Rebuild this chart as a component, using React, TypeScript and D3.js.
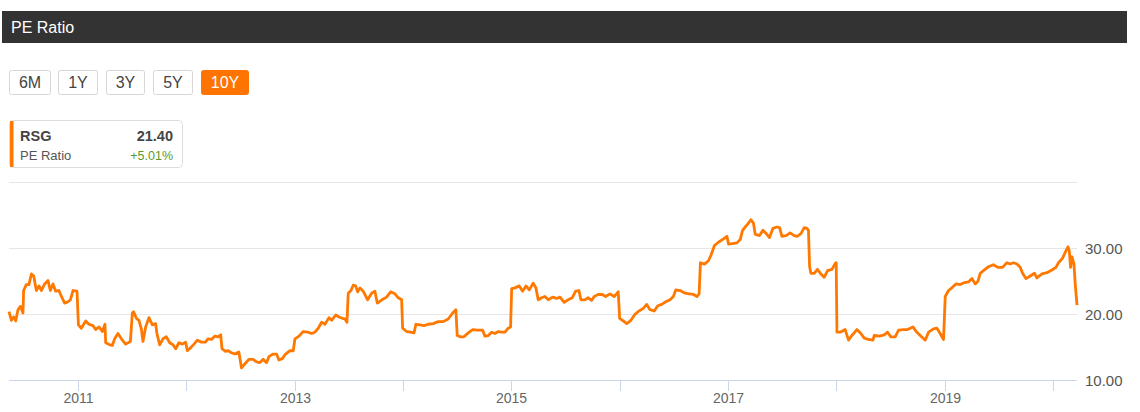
import * as d3 from "d3";

const years = [
  2010.365, 2010.387, 2010.408, 2010.427, 2010.448, 2010.47, 2010.494, 2010.5, 2010.525, 2010.549,
  2010.572, 2010.593, 2010.618, 2010.642, 2010.664, 2010.694, 2010.725, 2010.747, 2010.771, 2010.796,
  2010.826, 2010.849, 2010.879, 2010.91, 2010.932, 2010.956, 2010.993, 2011.006, 2011.033, 2011.073,
  2011.103, 2011.14, 2011.165, 2011.196, 2011.227, 2011.251, 2011.258, 2011.295, 2011.319, 2011.341,
  2011.371, 2011.403, 2011.442, 2011.486, 2011.504, 2011.516, 2011.541, 2011.565, 2011.587, 2011.602,
  2011.627, 2011.657, 2011.689, 2011.719, 2011.731, 2011.756, 2011.787, 2011.818, 2011.849, 2011.879,
  2011.904, 2011.934, 2011.966, 2011.996, 2012.012, 2012.033, 2012.073, 2012.104, 2012.141, 2012.178,
  2012.202, 2012.234, 2012.264, 2012.295, 2012.319, 2012.331, 2012.363, 2012.387, 2012.418, 2012.449,
  2012.486, 2012.511, 2012.541, 2012.578, 2012.618, 2012.649, 2012.68, 2012.71, 2012.741, 2012.763,
  2012.802, 2012.834, 2012.855, 2012.886, 2012.917, 2012.957, 2012.987, 2013.003, 2013.04, 2013.079,
  2013.12, 2013.157, 2013.187, 2013.218, 2013.249, 2013.28, 2013.317, 2013.342, 2013.379, 2013.409,
  2013.44, 2013.465, 2013.483, 2013.495, 2013.52, 2013.541, 2013.563, 2013.582, 2013.603, 2013.633,
  2013.674, 2013.711, 2013.741, 2013.763, 2013.806, 2013.849, 2013.886, 2013.926, 2013.957, 2013.988,
  2013.997, 2014.034, 2014.071, 2014.102, 2014.12, 2014.157, 2014.194, 2014.234, 2014.28, 2014.326,
  2014.372, 2014.418, 2014.459, 2014.489, 2014.501, 2014.533, 2014.563, 2014.603, 2014.644, 2014.686,
  2014.736, 2014.757, 2014.788, 2014.819, 2014.849, 2014.88, 2014.911, 2014.942, 2014.972, 2014.994,
  2015.004, 2015.034, 2015.074, 2015.105, 2015.136, 2015.166, 2015.203, 2015.228, 2015.249, 2015.281,
  2015.311, 2015.342, 2015.382, 2015.419, 2015.45, 2015.489, 2015.526, 2015.563, 2015.595, 2015.625,
  2015.643, 2015.68, 2015.711, 2015.742, 2015.766, 2015.803, 2015.84, 2015.872, 2015.911, 2015.951,
  2015.988, 2016.001, 2016.034, 2016.066, 2016.105, 2016.142, 2016.179, 2016.219, 2016.25, 2016.281,
  2016.32, 2016.352, 2016.389, 2016.426, 2016.465, 2016.496, 2016.518, 2016.558, 2016.604, 2016.641,
  2016.681, 2016.712, 2016.733, 2016.745, 2016.782, 2016.819, 2016.844, 2016.874, 2016.911, 2016.958,
  2016.989, 2017.004, 2017.041, 2017.081, 2017.112, 2017.133, 2017.158, 2017.179, 2017.21, 2017.234,
  2017.25, 2017.29, 2017.321, 2017.352, 2017.382, 2017.414, 2017.451, 2017.475, 2017.497, 2017.536,
  2017.573, 2017.61, 2017.641, 2017.672, 2017.703, 2017.728, 2017.742, 2017.752, 2017.764, 2017.795,
  2017.825, 2017.857, 2017.887, 2017.918, 2017.959, 2017.989, 2017.998, 2018.005, 2018.035, 2018.081,
  2018.112, 2018.143, 2018.189, 2018.226, 2018.257, 2018.297, 2018.337, 2018.349, 2018.398, 2018.442,
  2018.472, 2018.503, 2018.543, 2018.574, 2018.62, 2018.657, 2018.707, 2018.737, 2018.774, 2018.82,
  2018.851, 2018.897, 2018.928, 2018.958, 2018.989, 2019.005, 2019.035, 2019.066, 2019.104, 2019.143,
  2019.183, 2019.22, 2019.251, 2019.282, 2019.307, 2019.328, 2019.358, 2019.404, 2019.45, 2019.491,
  2019.534, 2019.574, 2019.605, 2019.636, 2019.667, 2019.697, 2019.719, 2019.75, 2019.79, 2019.829,
  2019.851, 2019.898, 2019.944, 2019.99, 2020.027, 2020.051, 2020.088, 2020.119, 2020.138, 2020.15,
  2020.162, 2020.175, 2020.193, 2020.205, 2020.221,
];

const peRatio = [
  20.4, 19.1, 19.6, 19.0, 20.7, 21.2, 20.2, 23.6, 24.5, 24.5,
  26.1, 25.8, 23.6, 24.3, 23.6, 24.6, 25.1, 23.6, 24.6, 23.5,
  23.6, 22.7, 21.7, 21.9, 22.2, 23.6, 23.5, 18.4, 17.9, 19.0,
  18.5, 18.3, 17.7, 18.1, 17.4, 18.5, 15.7, 15.4, 15.3, 16.3,
  17.1, 16.3, 15.5, 15.9, 20.2, 20.4, 19.4, 19.1, 17.8, 15.9,
  18.1, 19.5, 18.4, 18.6, 17.1, 15.4, 16.3, 16.6, 15.7, 15.4,
  14.8, 15.7, 15.5, 15.8, 14.5, 14.8, 15.5, 16.1, 15.8, 15.8,
  16.3, 16.2, 16.7, 16.6, 16.9, 14.8, 14.4, 14.5, 14.2, 14.0,
  14.3, 11.9, 12.5, 13.2, 13.2, 12.8, 12.7, 13.2, 12.7, 13.6,
  14.0, 14.0, 13.1, 13.3, 14.0, 14.5, 14.5, 16.3, 16.7, 17.4,
  17.3, 17.1, 17.3, 17.9, 18.8, 18.5, 19.5, 19.1, 19.9, 19.6,
  19.4, 19.3, 18.8, 23.2, 23.6, 24.4, 24.3, 23.4, 24.0, 23.5,
  22.2, 23.2, 23.5, 21.7, 22.2, 22.6, 23.4, 23.1, 22.5, 22.2,
  17.9, 17.4, 17.3, 17.2, 18.5, 18.4, 18.3, 18.5, 18.6, 18.9,
  18.9, 19.3, 20.2, 20.7, 16.8, 16.6, 16.6, 17.2, 17.7, 17.6,
  17.6, 16.7, 16.8, 17.3, 17.1, 17.4, 17.3, 17.3, 17.9, 18.1,
  23.9, 24.0, 24.3, 23.5, 24.3, 23.7, 24.7, 24.0, 22.2, 22.5,
  22.7, 22.2, 22.6, 22.4, 22.6, 21.8, 22.2, 22.5, 23.5, 23.6,
  22.2, 22.2, 22.5, 22.1, 22.7, 23.0, 23.0, 22.7, 23.1, 22.7,
  23.4, 19.4, 19.0, 18.6, 19.1, 20.0, 20.5, 20.9, 21.5, 20.7,
  20.5, 21.3, 21.5, 21.9, 22.2, 22.7, 23.7, 23.6, 23.2, 23.1,
  23.0, 22.7, 23.1, 27.8, 27.6, 28.1, 29.0, 30.4, 30.9, 31.4,
  31.8, 30.6, 30.7, 30.8, 31.3, 32.7, 33.2, 33.6, 34.3, 33.8,
  32.1, 31.9, 32.7, 32.2, 31.6, 33.0, 33.2, 33.1, 31.8, 31.9,
  32.3, 31.9, 31.8, 32.2, 33.1, 33.0, 32.7, 27.3, 26.2, 26.2,
  26.8, 26.1, 25.6, 26.6, 26.8, 27.7, 27.8, 17.3, 17.3, 17.7,
  16.1, 16.8, 17.7, 17.1, 16.4, 16.2, 16.1, 16.8, 16.7, 16.9,
  17.3, 16.6, 16.6, 17.6, 17.7, 17.7, 18.1, 17.4, 16.8, 16.1,
  17.3, 17.8, 17.9, 17.1, 16.2, 22.7, 23.6, 24.0, 24.6, 24.5,
  24.8, 24.9, 25.4, 24.6, 25.0, 26.2, 26.6, 27.2, 27.5, 27.1,
  27.1, 27.8, 27.6, 27.8, 27.6, 27.1, 26.2, 25.4, 25.8, 26.2,
  25.5, 26.1, 26.3, 26.7, 27.1, 27.8, 28.5, 29.6, 30.2, 29.6,
  27.1, 28.7, 27.6, 24.5, 21.4,
];

const yTicks = [10, 20, 30, 40];
const ranges = ["6M", "1Y", "3Y", "5Y", "10Y"];
const activeRange = "10Y";
const ticker = "RSG";
const lastValue = "21.40";
const change = "+5.01%";

const WIDTH = 1140;
const HEIGHT = 412;
const ORANGE = "#ff7800";
const FONT = "'Liberation Sans', Arial, sans-serif";

const yearToDate = (y: number) => {
  const yr = Math.floor(y);
  const start = new Date(yr, 0, 1).getTime();
  const end = new Date(yr + 1, 0, 1).getTime();
  return new Date(start + (y - yr) * (end - start));
};

const buttonBoxes = [
  [9, 41],
  [58, 39],
  [106, 38],
  [153, 39],
  [201, 47],
];

export default function App() {
  const data = years.map((y, i) => ({ date: yearToDate(y), value: peRatio[i] }));

  const xScale = d3
    .scaleTime()
    .domain(d3.extent(data, (d) => d.date) as [Date, Date])
    .range([9, 1077]);

  const yScale = d3.scaleLinear().domain([10, 40]).range([380.5, 182]);

  const yearTicks = xScale.ticks(d3.timeYear.every(1)!);

  const line = d3
    .line<{ date: Date; value: number }>()
    .x((d) => xScale(d.date))
    .y((d) => yScale(d.value));

  return (
    <svg
      width={WIDTH}
      height={HEIGHT}
      style={{ position: "absolute", left: 0, top: 0, fontFamily: FONT }}
    >
      <rect x={0} y={0} width={WIDTH} height={HEIGHT} fill="#fff" />
      {/* header bar */}
      <rect x={2} y={11} width={1125} height={32} fill="#333333" />
      <text x={11} y={33} fill="#fff" fontSize={16}>
        PE Ratio
      </text>

      {/* range buttons */}
      {ranges.map((r, i) => {
        const [bx, bw] = buttonBoxes[i];
        const active = r === activeRange;
        return (
          <g key={r}>
            <rect
              x={bx + 0.5}
              y={70.5}
              width={bw}
              height={24}
              rx={2}
              fill={active ? "#ff7300" : "#fff"}
              stroke={active ? "#ff7300" : "#d6d6d6"}
            />
            <text
              x={bx + bw / 2 + 0.5}
              y={88}
              textAnchor="middle"
              fontSize={16}
              fill={active ? "#fff" : "#444"}
            >
              {r}
            </text>
          </g>
        );
      })}

      {/* legend box */}
      <rect x={9.5} y={120.5} width={173} height={47} rx={4} fill="#fff" stroke="#dddddd" />
      <path d="M13,121 L13,167 L12,167 Q10,167 10,164 L10,124 Q10,121 12,121 Z" fill={ORANGE} />
      <rect x={10} y={121} width={3.5} height={46} fill={ORANGE} />
      <text x={20} y={141} fontSize={14.5} fontWeight="bold" fill="#444">
        {ticker}
      </text>
      <text x={173} y={141} fontSize={14.5} fontWeight="bold" fill="#444" textAnchor="end">
        {lastValue}
      </text>
      <text x={20} y={160} fontSize={13} fill="#555">
        PE Ratio
      </text>
      <text x={173} y={160} fontSize={12.5} fill="#5b9b2a" textAnchor="end">
        {change}
      </text>

      {/* grid */}
      {yTicks.map((t) =>
        t === 10 ? null : (
          <line
            key={t}
            x1={9}
            x2={1077}
            y1={Math.round(yScale(t)) + 0.5}
            y2={Math.round(yScale(t)) + 0.5}
            stroke="#e6e6e6"
          />
        )
      )}
      {yTicks
        .filter((t) => t < 40)
        .map((t) => (
          <text key={t} x={1085} y={yScale(t) + 5.5} fontSize={15} fill="#555">
            {t.toFixed(2)}
          </text>
        ))}

      {/* x axis */}
      <line x1={9} x2={1077} y1={380.5} y2={380.5} stroke="#ccd6eb" />
      {yearTicks.map((t) => {
        const x = Math.round(xScale(t)) + 0.5;
        const yr = t.getFullYear();
        return (
          <g key={yr}>
            <line x1={x} x2={x} y1={380} y2={391} stroke="#ccd6eb" />
            {yr % 2 === 1 ? (
              <text x={x} y={403} textAnchor="middle" fontSize={14} fill="#666">
                {yr}
              </text>
            ) : null}
          </g>
        );
      })}

      {/* series */}
      <path
        d={line(data) || undefined}
        fill="none"
        stroke={ORANGE}
        strokeWidth={2.8}
        strokeLinejoin="round"
      />
    </svg>
  );
}
